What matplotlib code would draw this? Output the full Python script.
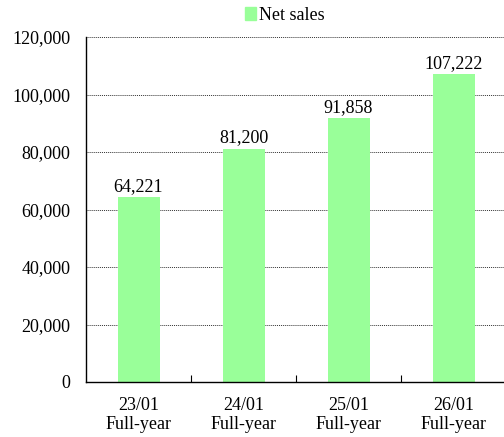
import matplotlib
matplotlib.use("Agg")
import matplotlib.pyplot as plt
from matplotlib.ticker import FuncFormatter, FixedLocator
from matplotlib.patches import Patch

categories = ["23/01\nFull-year", "24/01\nFull-year", "25/01\nFull-year", "26/01\nFull-year"]
net_sales = [64221, 81200, 91858, 107222]
series_name = "Net sales"

plt.rcParams['font.family'] = ['Liberation Serif', 'DejaVu Serif']
plt.rcParams['font.size'] = 13

fig = plt.figure(figsize=(5.04, 4.37), dpi=100)
ax = fig.add_axes([86/504, 1-382/437, 420/504, (382-37)/437])

color = "#99FF99"
x = list(range(len(categories)))
ax.bar(x, net_sales, width=0.4, color=color, zorder=3)
for xi, v in zip(x, net_sales):
    ax.annotate(f"{v:,}", (xi, v), xytext=(0, 1.5), textcoords="offset points",
                ha="center", va="bottom", fontsize=13, zorder=4)

ax.set_xlim(-0.5, len(categories) - 0.5)
ax.set_ylim(0, 120000)
ax.set_yticks(range(0, 120001, 20000))
ax.yaxis.set_major_formatter(FuncFormatter(lambda v, p: f"{int(v):,}"))
ax.tick_params(axis='y', length=0, pad=11)

ax.set_xticks(x)
ax.set_xticklabels(categories, linespacing=1.15)
ax.tick_params(axis='x', which='major', length=0, pad=11)
ax.xaxis.set_minor_locator(FixedLocator([i + 0.5 for i in x[:-1]]))
ax.tick_params(axis='x', which='minor', length=5, direction='in', width=0.8)

ax.grid(axis='y', linestyle=(0, (1, 1)), color='#333333', linewidth=0.7, zorder=1)
for s in ['top', 'right']:
    ax.spines[s].set_visible(False)
ax.spines['left'].set_linewidth(1.0)
ax.spines['bottom'].set_linewidth(1.0)
ax.spines['left'].set_zorder(5)
ax.spines['bottom'].set_zorder(5)

fig.legend(handles=[Patch(color=color, label=series_name)], loc='center',
           bbox_to_anchor=(285/504, 1-15/437), frameon=False, handlelength=0.6,
           handleheight=0.7, handletextpad=0.15, fontsize=13)

fig.savefig("out.png", dpi=100)
